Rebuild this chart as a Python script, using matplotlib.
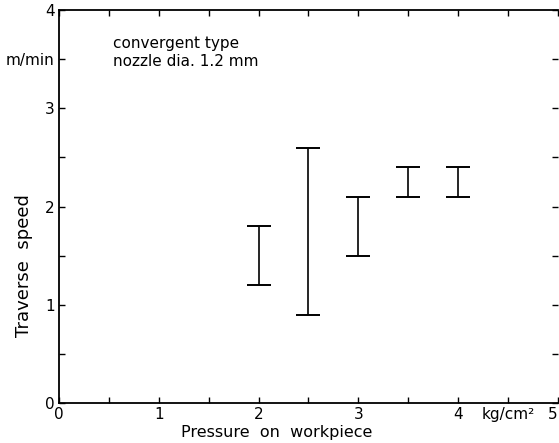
import matplotlib
matplotlib.use('Agg')
import matplotlib.pyplot as plt
import numpy as np

# data (speed range per pressure)
pressure = [2.0, 2.5, 3.0, 3.5, 4.0]
speed_low = [1.2, 0.9, 1.5, 2.1, 2.1]
speed_high = [1.8, 2.6, 2.1, 2.4, 2.4]

x_ticks = [0, 1, 2, 3, 4, 4.5, 5]
x_ticklabels = ['0', '1', '2', '3', '4', 'kg/cm²', '5']
y_ticks = [0, 1, 2, 3, 3.5, 4]
y_ticklabels = ['0', '1', '2', '3', 'm/min', '4']

plt.rcParams['font.family'] = ['DejaVu Sans']

fig = plt.figure(figsize=(5.59, 4.43), dpi=100)
ax = fig.add_axes([0.1055, 0.0903, 0.8925, 0.887])

lo = np.array(speed_low)
hi = np.array(speed_high)
mid = (lo + hi) / 2
ax.errorbar(pressure, mid, yerr=[mid - lo, hi - mid], fmt='none',
            ecolor='black', elinewidth=1.2, capsize=8.5, capthick=1.4)

ax.set_xlim(0, 5)
ax.set_ylim(0, 4)
ax.set_xticks(x_ticks)
ax.set_xticklabels(x_ticklabels, fontsize=11)
ax.set_yticks(y_ticks)
ax.set_yticklabels(y_ticklabels, fontsize=11)
ax.get_xticklabels()[-1].set_horizontalalignment('right')
ax.set_xticks(np.arange(0.5, 5, 1.0), minor=True)
ax.set_yticks(np.arange(0.5, 4, 1.0), minor=True)
ax.tick_params(which='both', direction='in', top=True, right=True,
               length=4, width=1, pad=3)
ax.tick_params(axis='x', which='major', labeltop=False)
ax.spines['right'].set_visible(False)
for s in ['left', 'bottom', 'top']:
    ax.spines[s].set_linewidth(1.3)

ax.text(0.108, 0.916, 'convergent type', transform=ax.transAxes,
        fontsize=11, va='center')
ax.text(0.108, 0.868, 'nozzle dia. 1.2 mm', transform=ax.transAxes,
        fontsize=11, va='center')

ax.set_xlabel('Pressure  on  workpiece', fontsize=11.5)
ax.xaxis.set_label_coords(0.437, -0.055)
ax.set_ylabel('Traverse  speed', fontsize=13)
ax.yaxis.set_label_coords(-0.052, 0.35)

fig.savefig('out.png', dpi=100)
